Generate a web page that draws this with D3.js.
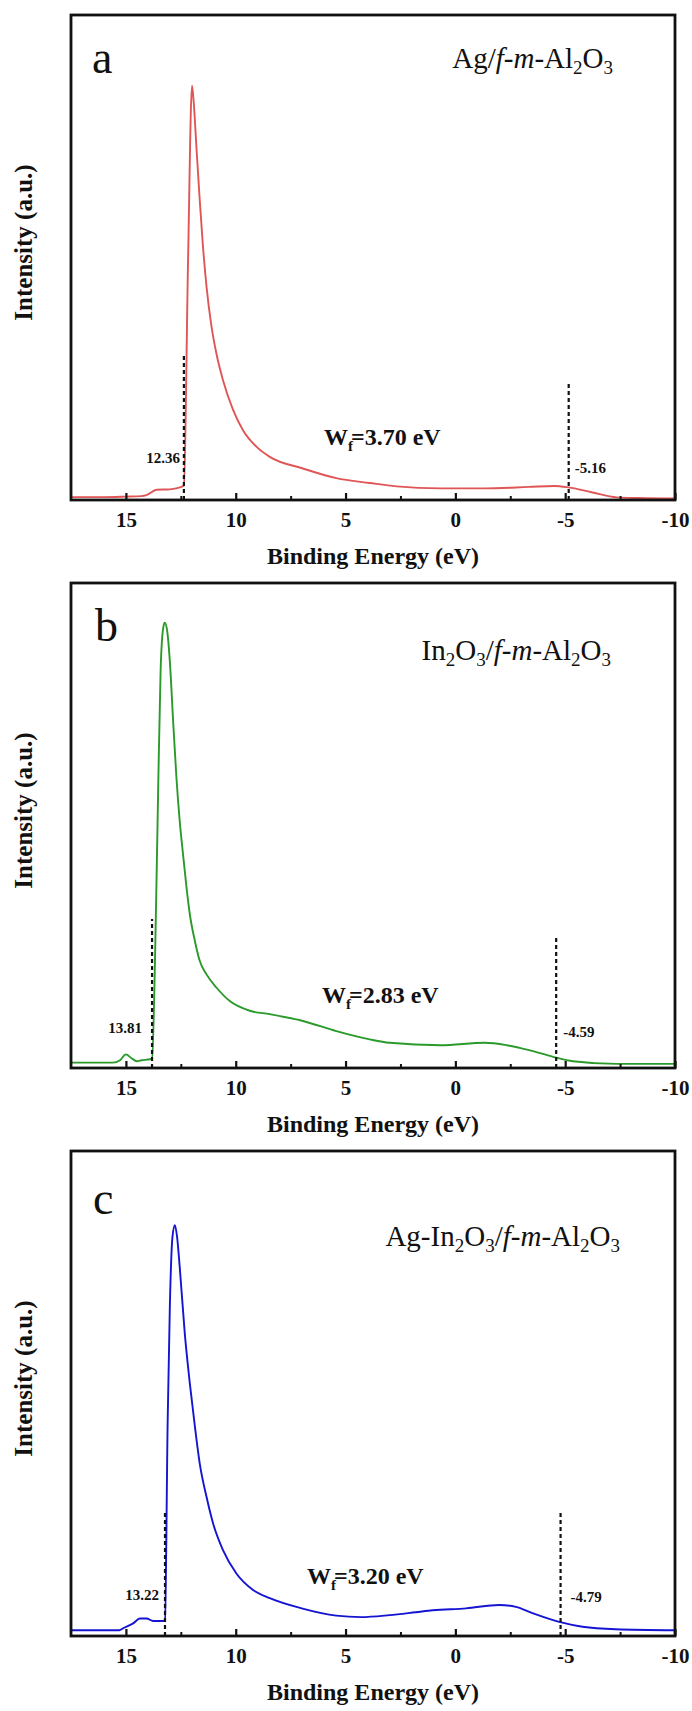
<!DOCTYPE html>
<html><head><meta charset="utf-8">
<script src="https://cdn.jsdelivr.net/npm/d3@7"></script>
<style>
body{margin:0;background:#fff}
svg{display:block}
text{font-family:"Liberation Serif","Times New Roman",serif;fill:#111}
</style>
</head><body>
<svg id="fig" width="692" height="1711"></svg>
<script>
// ---------- data ----------
const xTicks = [15, 10, 5, 0, -5, -10];
const xTickLabels = ["15", "10", "5", "0", "-5", "-10"];
const xMinorTicks = [12.5, 7.5, 2.5, -2.5, -7.5];
const panelLetters = ["a", "b", "c"];
const workFunctions = ["3.70", "2.83", "3.20"];
const cutoffEnergies = [12.36, 13.81, 13.22];
const cutoffLabels = ["12.36", "13.81", "13.22"];
const cutoffLineTops = [30.3, 30.7, 26.0];
const onsetEnergies = [-5.16, -4.59, -4.79];
const onsetLabels = ["-5.16", "-4.59", "-4.79"];
const onsetLineTops = [24.3, 27.2, 25.4];

const energyA = [17.5, 16, 15, 14.3, 14.06, 13.6, 13.0, 12.47, 12.36, 12.17, 11.99, 11.91, 11.79, 11.64, 11.49, 11.33, 11.1, 10.88, 10.58, 10.12, 9.67, 9.06, 8.45, 6.94, 5.42, 3.9, 2.68, 0.67, -1.34, -3.35, -4.5, -5.15, -6.2, -7.35, -8.36, -10];
const intensityA = [0.6, 0.6, 0.7, 0.8, 1.0, 2.1, 2.2, 2.7, 3.0, 49.5, 85.4, 81.8, 72.8, 61.9, 52.2, 44.0, 35.7, 30.2, 24.7, 18.6, 14.4, 11.0, 8.9, 6.5, 4.5, 3.5, 2.8, 2.4, 2.4, 2.7, 2.9, 2.6, 1.6, 0.55, 0.4, 0.3];

const energyB = [17.5, 16, 15.6, 15.27, 15.0, 14.74, 14.5, 14.29, 13.9, 13.81, 13.64, 13.53, 13.42, 13.3, 13.23, 13.12, 13.0, 12.85, 12.7, 12.55, 12.4, 12.24, 12.09, 11.86, 11.64, 11.33, 10.88, 10.27, 9.36, 8.45, 6.94, 5.42, 3.9, 3.0, 0.67, -1.34, -2.34, -3.35, -4.45, -5.35, -7.35, -10];
const intensityB = [1.1, 1.1, 1.1, 1.6, 2.8, 2.0, 1.4, 1.6, 1.8, 2.0, 30.3, 57.8, 81.9, 90.8, 91.8, 90.1, 83.9, 71.5, 59.9, 50.9, 44.1, 37.2, 31.7, 26.2, 22.1, 19.3, 16.6, 13.8, 11.8, 11.1, 9.7, 7.6, 5.9, 5.2, 4.7, 5.2, 4.7, 3.7, 2.3, 1.4, 0.85, 0.85];

const energyC = [17.5, 16, 15.3, 15.12, 14.67, 14.36, 14.06, 13.76, 13.3, 13.22, 13.1, 13.0, 12.88, 12.77, 12.67, 12.55, 12.32, 12.09, 11.86, 11.64, 11.33, 11.03, 10.58, 9.97, 9.21, 8.45, 7.0, 5.42, 4.3, 3.0, 1.8, 1.03, -0.49, -2.0, -2.76, -3.51, -4.73, -5.79, -7.3, -10];
const intensityC = [1.2, 1.2, 1.2, 1.6, 2.6, 3.6, 3.6, 3.1, 3.1, 3.3, 43.9, 67.9, 82.3, 84.7, 82.3, 76.1, 62.4, 52.1, 43.2, 35.6, 28.7, 23.2, 17.7, 12.9, 9.5, 7.8, 5.7, 4.2, 3.9, 4.3, 4.9, 5.3, 5.7, 6.4, 6.0, 4.7, 2.9, 1.9, 1.4, 1.2];

const seriesColors = ["#e05656", "#2a9a2a", "#1414d2"];

// ---------- layout ----------
const serif = '"Liberation Serif","Times New Roman",serif';
const svg = d3.select("#fig");
const left = 71, right = 675, panelH = 485;
const tops = [15, 583, 1151];
const x = d3.scaleLinear().domain([17.5, -10]).range([left, right]);

const panels = [
  {E: energyA, I: intensityA, sub: [["Ag/", ""], ["f", "i"], ["-", ""], ["m", "i"], ["-Al", ""], ["2", "s"], ["O", ""], ["3", "s"]],
   subX: 613, subY: 68, letX: 92, letY: 73, wfX: 324, wfY: 445,
   cutLx: -4, cutLy: 463, onLx: 6, onLy: 473},
  {E: energyB, I: intensityB, sub: [["In", ""], ["2", "s"], ["O", ""], ["3", "s"], ["/", ""], ["f", "i"], ["-", ""], ["m", "i"], ["-Al", ""], ["2", "s"], ["O", ""], ["3", "s"]],
   subX: 611, subY: 660, letX: 95, letY: 641, wfX: 322, wfY: 1003,
   cutLx: -10, cutLy: 1033, onLx: 7, onLy: 1037},
  {E: energyC, I: intensityC, sub: [["Ag-In", ""], ["2", "s"], ["O", ""], ["3", "s"], ["/", ""], ["f", "i"], ["-", ""], ["m", "i"], ["-Al", ""], ["2", "s"], ["O", ""], ["3", "s"]],
   subX: 620, subY: 1246, letX: 93, letY: 1214, wfX: 307, wfY: 1584,
   cutLx: -6, cutLy: 1600, onLx: 10, onLy: 1602}
];

panels.forEach((p, i) => {
  const top = tops[i], bottom = top + panelH;
  const y = d3.scaleLinear().domain([0, 100]).range([bottom, top]);
  const g = svg.append("g");

  // data line
  const pts = p.E.map((e, k) => [e, p.I[k]]);
  g.append("path").datum(pts)
    .attr("fill", "none").attr("stroke", seriesColors[i]).attr("stroke-width", 1.9)
    .attr("stroke-linejoin", "round")
    .attr("d", d3.line().x(d => x(d[0])).y(d => y(d[1])).curve(d3.curveMonotoneX));

  // dashed lines
  [[cutoffEnergies[i], cutoffLineTops[i]], [onsetEnergies[i], onsetLineTops[i]]].forEach(([e, t]) => {
    g.append("line").attr("x1", x(e)).attr("x2", x(e))
      .attr("y1", y(0)).attr("y2", y(t))
      .attr("stroke", "#111").attr("stroke-width", 2.2).attr("stroke-dasharray", "4,3");
  });

  // frame
  g.append("rect").attr("x", left).attr("y", top).attr("width", right - left).attr("height", panelH)
    .attr("fill", "none").attr("stroke", "#111").attr("stroke-width", 2.8);

  // axes
  const ax = g.append("g").attr("transform", `translate(0,${bottom})`)
    .call(d3.axisBottom(x).tickValues(xTicks).tickFormat((d, k) => xTickLabels[k]).tickSizeInner(-7).tickSizeOuter(0))
    .attr("font-family", serif);
  ax.select(".domain").remove();
  ax.selectAll(".tick line").attr("stroke", "#111").attr("stroke-width", 2.2);
  ax.selectAll(".tick text").attr("y", 27).attr("dy", null)
    .style("font-family", serif)
    .style("font-weight", "bold").style("font-size", "21px").attr("fill", "#111");
  const axm = g.append("g").attr("transform", `translate(0,${bottom})`)
    .call(d3.axisBottom(x).tickValues(xMinorTicks).tickFormat("").tickSizeInner(-4).tickSizeOuter(0));
  axm.select(".domain").remove();
  axm.selectAll(".tick line").attr("stroke", "#111").attr("stroke-width", 2);

  // axis titles
  g.append("text").attr("x", (left + right) / 2).attr("y", bottom + 64)
    .attr("text-anchor", "middle").style("font-weight", "bold").style("font-size", "24px")
    .text("Binding Energy (eV)");
  g.append("text").attr("transform", `translate(32,${(top + bottom) / 2 - 15}) rotate(-90)`)
    .attr("text-anchor", "middle").style("font-weight", "bold").style("font-size", "25px")
    .text("Intensity (a.u.)");

  // panel letter
  g.append("text").attr("x", p.letX).attr("y", p.letY).style("font-size", "46px").text(panelLetters[i]);

  // sample label
  const st = g.append("text").attr("x", p.subX).attr("y", p.subY).attr("text-anchor", "end").style("font-size", "29px");
  let shifted = false;
  p.sub.forEach(([t, kind]) => {
    const ts = st.append("tspan").text(t);
    if (kind === "s") { ts.style("font-size", "19px"); if (!shifted) { ts.attr("dy", 6); shifted = true; } }
    else { if (shifted) { ts.attr("dy", -6); shifted = false; } if (kind === "i") ts.style("font-style", "italic"); }
  });

  // work function label
  const wt = g.append("text").attr("x", p.wfX).attr("y", p.wfY).style("font-weight", "bold").style("font-size", "24px");
  wt.append("tspan").text("W");
  wt.append("tspan").text("f").style("font-size", "15px").attr("dy", 6);
  wt.append("tspan").text("=" + workFunctions[i] + " eV").attr("dy", -6).attr("dx", -2);

  // cutoff / onset labels
  g.append("text").attr("x", x(cutoffEnergies[i]) + p.cutLx).attr("y", p.cutLy).attr("text-anchor", "end")
    .style("font-weight", "bold").style("font-size", "15px").text(cutoffLabels[i]);
  g.append("text").attr("x", x(onsetEnergies[i]) + p.onLx).attr("y", p.onLy)
    .style("font-weight", "bold").style("font-size", "15px").text(onsetLabels[i]);
});
</script>
</body></html>
